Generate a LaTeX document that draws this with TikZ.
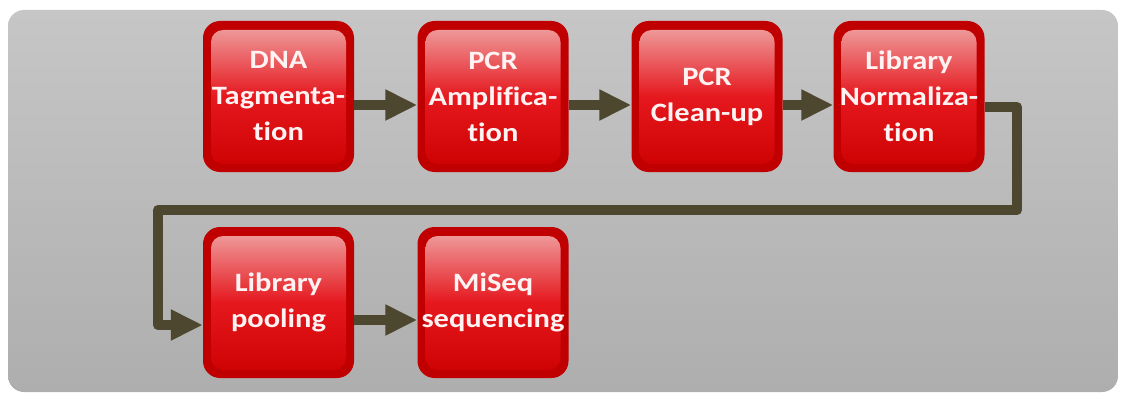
\documentclass[tikz,border=0pt]{standalone}
\usepackage{fontspec}
\newfontfamily\boxfont{Carlito}[BoldFont=* Bold, Ligatures=NoCommon, FakeStretch=1.15]
\usetikzlibrary{arrows.meta,calc}
\definecolor{boxdark}{RGB}{192,0,0}
\definecolor{boxlight}{RGB}{240,168,168}
\definecolor{boxmid}{RGB}{229,24,30}
\definecolor{boxbot}{RGB}{204,0,0}
\definecolor{flowcol}{RGB}{76,71,46}
\definecolor{bgtop}{RGB}{198,198,198}
\definecolor{bgbot}{RGB}{174,174,174}
\definecolor{txtcol}{RGB}{255,242,242}
\tikzset{
  stepbox/.style={minimum width=151pt, minimum height=151pt, inner sep=0pt,
    rounded corners=17pt, fill=boxdark, text=txtcol, align=center,
    font=\boxfont\bfseries\fontsize{26.5}{36}\selectfont,
    path picture={\shade[top color=boxlight, bottom color=boxbot, middle color=boxmid, rounded corners=12pt]
      ($(path picture bounding box.north west)+(8,9)$) rectangle ($(path picture bounding box.south east)+(-8,-8)$);}},
  flow/.style={draw=flowcol, line width=10pt, -{Triangle[length=32pt,width=29pt]}, line join=round}
}
\begin{document}
\begin{tikzpicture}[x=1pt,y=-1pt]
\useasboundingbox (0,0) rectangle (1122,396);
\shade[top color=bgtop, bottom color=bgbot, rounded corners=16pt] (8,10) rectangle (1118,392);
\node[stepbox] (b1) at (278.5,96.5) {DNA\\Tagmenta-\\tion};
\node[stepbox] (b2) at (493,96.5) {PCR\\Amplifica-\\tion};
\node[stepbox] (b3) at (707,96.5) {PCR\\Clean-up};
\node[stepbox] (b4) at (909,96.5) {Library\\Normaliza-\\tion};
\node[stepbox] (b5) at (278.5,302.5) {Library\\pooling};
\node[stepbox] (b6) at (493,302.5) {MiSeq\\sequencing};
\coordinate (r1) at (0,105);
\coordinate (r1b) at (0,107);
\coordinate (c1) at (1017,107);
\coordinate (c2) at (1017,210);
\coordinate (c3) at (158,210);
\coordinate (c4) at (158,325);
\coordinate (r2) at (0,320);
\draw[flow] (b1.east |- r1) -- (b2.west |- r1);
\draw[flow] (b2.east |- r1) -- (b3.west |- r1);
\draw[flow] (b3.east |- r1) -- (b4.west |- r1);
\draw[flow] (b4.east |- r1b) -- (c1) -- (c2) -- (c3) -- (c4) -- (b5.west |- c4);
\draw[flow] (b5.east |- r2) -- (b6.west |- r2);
\end{tikzpicture}
\end{document}
